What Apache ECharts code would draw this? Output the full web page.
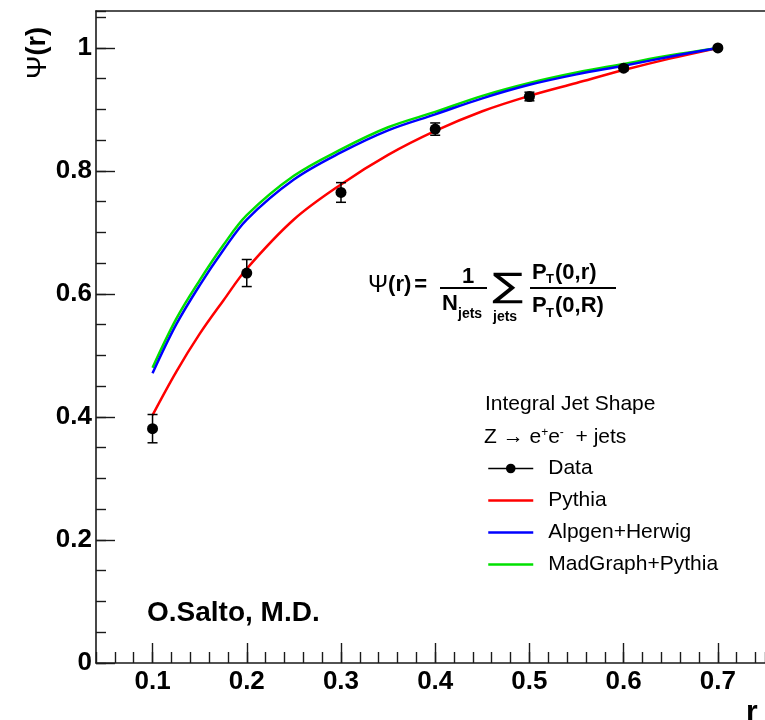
<!DOCTYPE html>
<html>
<head>
<meta charset="utf-8">
<script src="https://cdn.jsdelivr.net/npm/echarts@6/dist/echarts.min.js"></script>
<style>
  html, body { margin: 0; padding: 0; background: #ffffff; }
  #chart { width: 765px; height: 720px; }
</style>
</head>
<body>
<div id="chart"></div>
<script>
// Integral jet shape Psi(r) for Z -> e+e- + jets: measured points and generator predictions
const rPoints = [0.1, 0.2, 0.3, 0.4, 0.5, 0.6, 0.7];
const dataPsi = [0.381, 0.634, 0.765, 0.868, 0.921, 0.967, 1.0];
const dataErr = [0.023, 0.022, 0.016, 0.010, 0.007, 0.004, 0.002];

const curveR   = [0.1, 0.125, 0.15, 0.175, 0.2, 0.25, 0.3, 0.35, 0.4, 0.45, 0.5, 0.55, 0.6, 0.65, 0.7];
const pythia   = [0.403, 0.473, 0.535, 0.589, 0.641, 0.721, 0.778, 0.826, 0.865, 0.897, 0.922, 0.943, 0.964, 0.983, 1.0];
const alpgen   = [0.471, 0.550, 0.614, 0.671, 0.721, 0.786, 0.830, 0.866, 0.892, 0.918, 0.940, 0.957, 0.971, 0.986, 1.0];
const madgraph = [0.480, 0.559, 0.622, 0.679, 0.728, 0.792, 0.835, 0.871, 0.896, 0.922, 0.943, 0.960, 0.974, 0.988, 1.0];

const xTickValues = [0.1, 0.2, 0.3, 0.4, 0.5, 0.6, 0.7];
const yTickValues = [0, 0.2, 0.4, 0.6, 0.8, 1];

const FONT = 'Liberation Sans';
const X_MIN = 0.04, X_MAX = 0.75, Y_MIN = 0, Y_MAX = 1.06;

const chart = echarts.init(document.getElementById('chart'), null, { renderer: 'canvas' });

const pairs = (xs, ys) => xs.map((x, i) => [x, ys[i]]);

const axisLineStyle = { color: '#1a1a1a', width: 1.6 };
const tickLineStyle = { color: '#1a1a1a', width: 1.4 };

const option = {
  backgroundColor: '#ffffff',
  animation: false,
  grid: { left: 96, right: 0, top: 11, bottom: 57, containLabel: false },
  xAxis: [
    {
      type: 'value', min: X_MIN, max: X_MAX, position: 'bottom',
      axisLine: { show: true, lineStyle: axisLineStyle },
      axisTick: { show: true, inside: true, length: 20, lineStyle: tickLineStyle, customValues: xTickValues },
      axisLabel: {
        show: true, margin: 6, customValues: xTickValues,
        fontFamily: FONT, fontWeight: 'bold', fontSize: 26, color: '#000',
        formatter: v => String(Math.round(v * 10) / 10)
      },
      splitLine: { show: false }
    },
    {
      // minor ticks every 0.02
      type: 'value', min: X_MIN, max: X_MAX, interval: 0.02, position: 'bottom',
      axisLine: { show: false },
      axisTick: { show: true, inside: true, length: 11, lineStyle: tickLineStyle },
      axisLabel: { show: false },
      splitLine: { show: false }
    },
    {
      // upper frame edge
      type: 'value', min: X_MIN, max: X_MAX, position: 'top',
      axisLine: { show: true, lineStyle: axisLineStyle },
      axisTick: { show: false }, axisLabel: { show: false }, splitLine: { show: false }
    }
  ],
  yAxis: [
    {
      type: 'value', min: Y_MIN, max: Y_MAX, position: 'left',
      axisLine: { show: true, lineStyle: axisLineStyle },
      axisTick: { show: true, inside: true, length: 19, lineStyle: tickLineStyle, customValues: yTickValues },
      axisLabel: {
        show: true, margin: 4, customValues: yTickValues,
        fontFamily: FONT, fontWeight: 'bold', fontSize: 26, color: '#000',
        formatter: v => String(Math.round(v * 10) / 10)
      },
      splitLine: { show: false }
    },
    {
      // minor ticks every 0.05
      type: 'value', min: Y_MIN, max: Y_MAX, interval: 0.05, position: 'left',
      axisLine: { show: false },
      axisTick: { show: true, inside: true, length: 10, lineStyle: tickLineStyle },
      axisLabel: { show: false },
      splitLine: { show: false }
    }
  ],
  legend: {
    orient: 'vertical',
    left: 487, top: 458, padding: 0,
    itemWidth: 45, itemHeight: 12, itemGap: 11,
    textStyle: {
      fontFamily: FONT, fontSize: 21, color: '#000',
      rich: { t: { fontFamily: FONT, fontSize: 21, color: '#000', padding: [0, 0, 0, 10] } }
    },
    formatter: name => '{t|' + name + '}',
    data: [
      { name: 'Data', lineStyle: { opacity: 1, width: 1.5, color: '#000' } },
      { name: 'Pythia', itemStyle: { opacity: 0 }, lineStyle: { width: 2.5 } },
      { name: 'Alpgen+Herwig', itemStyle: { opacity: 0 }, lineStyle: { width: 2.5 } },
      { name: 'MadGraph+Pythia', itemStyle: { opacity: 0 }, lineStyle: { width: 2.5 } }
    ]
  },
  series: [
    {
      name: 'Pythia', type: 'line', data: pairs(curveR, pythia),
      smooth: 0.35, symbol: 'none', z: 2,
      lineStyle: { color: '#ff0000', width: 2.5 }, itemStyle: { color: '#ff0000' }
    },
    {
      name: 'Alpgen+Herwig', type: 'line', data: pairs(curveR, alpgen),
      smooth: 0.35, symbol: 'none', z: 3,
      lineStyle: { color: '#0000ff', width: 2.5 }, itemStyle: { color: '#0000ff' }
    },
    {
      name: 'MadGraph+Pythia', type: 'line', data: pairs(curveR, madgraph),
      smooth: 0.35, symbol: 'none', z: 2.5,
      lineStyle: { color: '#00e000', width: 2.5 }, itemStyle: { color: '#00e000' }
    },
    {
      name: 'errors', type: 'custom', z: 5,
      data: rPoints.map((r, i) => [r, dataPsi[i], dataErr[i]]),
      renderItem: (params, api) => {
        const x = api.value(0), y = api.value(1), e = api.value(2);
        const hi = api.coord([x, y + e]);
        const lo = api.coord([x, y - e]);
        const cap = 5;
        const st = { stroke: '#000', lineWidth: 1.5 };
        return {
          type: 'group',
          children: [
            { type: 'line', shape: { x1: hi[0], y1: hi[1], x2: lo[0], y2: lo[1] }, style: st },
            { type: 'line', shape: { x1: hi[0] - cap, y1: hi[1], x2: hi[0] + cap, y2: hi[1] }, style: st },
            { type: 'line', shape: { x1: lo[0] - cap, y1: lo[1], x2: lo[0] + cap, y2: lo[1] }, style: st }
          ]
        };
      }
    },
    {
      name: 'Data', type: 'line', data: pairs(rPoints, dataPsi),
      symbol: 'circle', symbolSize: 11, z: 6,
      itemStyle: { color: '#000' },
      lineStyle: { color: '#000', width: 1.5, opacity: 0 }
    }
  ],
  graphic: [
    // y-axis title
    {
      type: 'text', x: 38, y: 27, rotation: Math.PI / 2,
      style: {
        text: '{a|Ψ}{b|(r)}', align: 'right', verticalAlign: 'middle',
        rich: {
          a: { fontFamily: FONT, fontSize: 28, fill: '#000' },
          b: { fontFamily: FONT, fontSize: 27, fontWeight: 'bold', fill: '#000' }
        }
      }
    },
    // x-axis title
    {
      type: 'text', x: 746, y: 713,
      style: { text: 'r', fontFamily: FONT, fontSize: 30, fontWeight: 'bold', fill: '#000', align: 'left', verticalAlign: 'middle' }
    },
    // authors
    {
      type: 'text', x: 147, y: 613,
      style: { text: 'O.Salto, M.D.', fontFamily: FONT, fontSize: 28, fontWeight: 'bold', fill: '#000', align: 'left', verticalAlign: 'middle' }
    },
    // definition of the integral jet shape
    {
      type: 'text', x: 368, y: 285,
      style: {
        text: '{a|Ψ}{b|(r)}{c|=}', verticalAlign: 'middle', align: 'left',
        rich: {
          a: { fontFamily: FONT, fontSize: 24, fill: '#000' },
          b: { fontFamily: FONT, fontSize: 22, fontWeight: 'bold', fill: '#000' },
          c: { fontFamily: FONT, fontSize: 22, fontWeight: 'bold', fill: '#000', padding: [0, 0, 0, 3] }
        }
      }
    },
    { type: 'text', x: 468, y: 277, style: { text: '1', fontFamily: FONT, fontSize: 22, fontWeight: 'bold', fill: '#000', align: 'center', verticalAlign: 'middle' } },
    { type: 'line', shape: { x1: 440, y1: 288, x2: 487, y2: 288 }, style: { stroke: '#000', lineWidth: 2 } },
    { type: 'text', x: 442, y: 304, style: { text: 'N', fontFamily: FONT, fontSize: 22, fontWeight: 'bold', fill: '#000', align: 'left', verticalAlign: 'middle' } },
    { type: 'text', x: 458, y: 314, style: { text: 'jets', fontFamily: FONT, fontSize: 14, fontWeight: 'bold', fill: '#000', align: 'left', verticalAlign: 'middle' } },
    { type: 'text', x: 508, y: 288, scaleX: 1.35, style: { text: '∑', fontFamily: 'DejaVu Sans', fontSize: 34, fill: '#000', align: 'center', verticalAlign: 'middle' } },
    { type: 'text', x: 493, y: 317, style: { text: 'jets', fontFamily: FONT, fontSize: 14, fontWeight: 'bold', fill: '#000', align: 'left', verticalAlign: 'middle' } },
    { type: 'text', x: 532, y: 273, style: { text: 'P', fontFamily: FONT, fontSize: 22, fontWeight: 'bold', fill: '#000', align: 'left', verticalAlign: 'middle' } },
    { type: 'text', x: 546, y: 279, style: { text: 'T', fontFamily: FONT, fontSize: 13, fontWeight: 'bold', fill: '#000', align: 'left', verticalAlign: 'middle' } },
    { type: 'text', x: 555, y: 273, style: { text: '(0,r)', fontFamily: FONT, fontSize: 22, fontWeight: 'bold', fill: '#000', align: 'left', verticalAlign: 'middle' } },
    { type: 'line', shape: { x1: 530, y1: 288, x2: 616, y2: 288 }, style: { stroke: '#000', lineWidth: 2 } },
    { type: 'text', x: 532, y: 306, style: { text: 'P', fontFamily: FONT, fontSize: 22, fontWeight: 'bold', fill: '#000', align: 'left', verticalAlign: 'middle' } },
    { type: 'text', x: 546, y: 313, style: { text: 'T', fontFamily: FONT, fontSize: 13, fontWeight: 'bold', fill: '#000', align: 'left', verticalAlign: 'middle' } },
    { type: 'text', x: 555, y: 306, style: { text: '(0,R)', fontFamily: FONT, fontSize: 22, fontWeight: 'bold', fill: '#000', align: 'left', verticalAlign: 'middle' } },
    // legend header
    { type: 'text', x: 485, y: 404, style: { text: 'Integral Jet Shape', fontFamily: FONT, fontSize: 21, fill: '#000', align: 'left', verticalAlign: 'middle' } },
    {
      type: 'text', x: 484, y: 437,
      style: {
        text: '{n|Z → e}{s|+}{n|e}{s|-}{n|  + jets}', align: 'left', verticalAlign: 'middle',
        rich: {
          n: { fontFamily: FONT, fontSize: 21, fill: '#000' },
          s: { fontFamily: FONT, fontSize: 12, fill: '#000', verticalAlign: 'top' }
        }
      }
    }
  ]
};

chart.setOption(option);
</script>
</body>
</html>
